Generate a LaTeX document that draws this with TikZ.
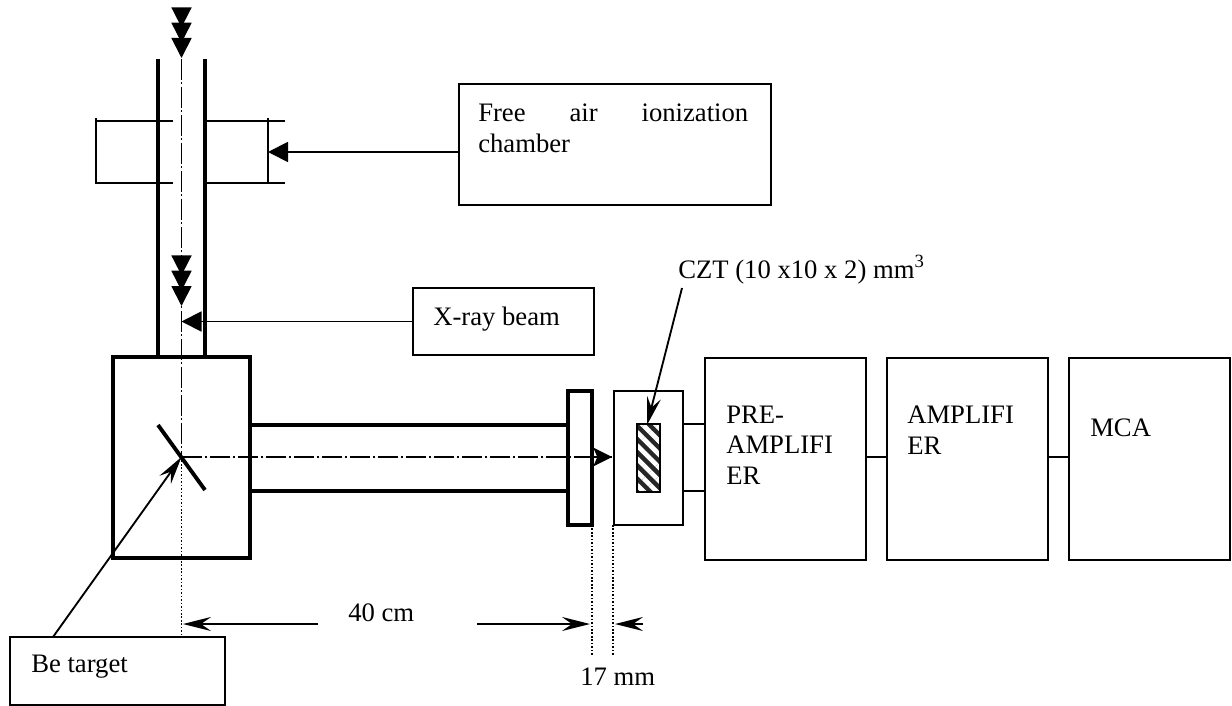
\documentclass[tikz,border=0pt]{standalone}
\usepackage{fontspec}
\setmainfont{Liberation Serif}
\usetikzlibrary{arrows.meta, patterns.meta}

\begin{document}
\begin{tikzpicture}[
    x=0.75pt, y=-0.75pt,
    labelbox/.style={rectangle, draw, line width=1.4pt, inner sep=0pt, outer sep=0pt},
    heavybox/.style={rectangle, draw, line width=2.9pt, inner sep=0pt, outer sep=0pt, fill=white},
    lbl/.style={font=\fontsize{20}{23}\selectfont, inner sep=0pt, align=left, anchor=base west},
    wall/.style={line width=2.9pt},
    thinline/.style={line width=1.4pt},
    beam/.style={line width=1.4pt, dash pattern=on 15.5pt off 2pt on 1.5pt off 2pt},
    dots/.style={line width=1.2pt, dash pattern=on 1.2pt off 1.4pt},
    solidarr/.style={line width=1.4pt, -{Triangle[length=15pt, width=15pt]}},
    kitearr/.style={line width=1.4pt, -{Stealth[length=21pt, width=10.5pt, inset=7.5pt]}},
    beamarr/.style={line width=1.4pt, -{Stealth[length=14pt, width=14pt, inset=3pt]}},
    triplearr/.style={line width=1.4pt, -{Triangle[length=15pt, width=15pt, sep=-3.5pt] Triangle[length=15pt, width=15pt, sep=-3.5pt] Triangle[length=15pt, width=15pt]}},
]
\useasboundingbox (0,0) rectangle (1232,706);

% source housing and pipe to the detector
\node[heavybox, minimum width=102.75pt, minimum height=150.75pt] (housing) at (181.5,457.5) {};
\node[heavybox, minimum width=18pt, minimum height=100.5pt] (collimator) at (580,458) {};

\coordinate (pipeNW) at (158,59);
\coordinate (pipeNE) at (205,59);
\coordinate (pipeSW) at (158,357);
\coordinate (pipeSE) at (205,357);
\draw[wall] (pipeNW) -- (pipeSW);
\draw[wall] (pipeNE) -- (pipeSE);

\coordinate (tubeTL) at (250,425);
\coordinate (tubeTR) at (568,425);
\coordinate (tubeBL) at (250,491);
\coordinate (tubeBR) at (568,491);
\draw[wall] (tubeTL) -- (tubeTR);
\draw[wall] (tubeBL) -- (tubeBR);

\coordinate (targetA) at (158,425);
\coordinate (targetB) at (205,490);
\draw[wall] (targetA) -- (targetB);

% ionization chamber
\coordinate (chamLT) at (96,121);
\coordinate (chamLM) at (173,121);
\coordinate (chamRM) at (207,121);
\coordinate (chamRT) at (285,121);
\coordinate (chamLB) at (96,183);
\coordinate (chamLN) at (173,183);
\coordinate (chamRN) at (207,183);
\coordinate (chamRB) at (285,183);
\draw[thinline] (chamLT) -- (chamLM);
\draw[thinline] (chamRM) -- (chamRT);
\draw[thinline] (chamLB) -- (chamLN);
\draw[thinline] (chamRN) -- (chamRB);
\coordinate (chamA) at (96,118);
\coordinate (chamB) at (96,184);
\coordinate (chamC) at (268,118);
\coordinate (chamD) at (268,184);
\draw[thinline] (chamA) -- (chamB);
\draw[thinline] (chamC) -- (chamD);

% beam axis
\coordinate (beamTop) at (181.5,59);
\coordinate (beamHit) at (181.5,457);
\coordinate (beamEnd) at (612,457);
\coordinate (dotEnd) at (181.5,637);
\draw[beam] (beamTop) -- (beamHit);
\draw[beam] (beamHit) -- (beamEnd);
\draw[dots] (beamHit) -- (dotEnd);

\coordinate (headTopA) at (181.5,8);
\coordinate (headTopB) at (181.5,58);
\coordinate (headMidA) at (181.5,257);
\coordinate (headMidB) at (181.5,306);
\draw[triplearr] (headTopA) -- (headTopB);
\draw[triplearr] (headMidA) -- (headMidB);

\coordinate (beamFrom) at (592,457);
\draw[beamarr] (beamFrom) -- (beamEnd);

% detector
\node[labelbox, minimum width=51.75pt, minimum height=100.5pt] (detbox) at (648.5,458) {};
\node[labelbox, minimum width=17.25pt, minimum height=51pt,
      preaction={fill=black!85}, pattern={Lines[angle=-45, distance=7pt, line width=3.5pt]}, pattern color=white] (czt) at (648.5,458) {};

% electronics
\node[labelbox, minimum width=120.75pt, minimum height=151.5pt] (preamp) at (785.5,459) {};
\node[labelbox, minimum width=120.75pt, minimum height=151.5pt] (amp) at (967.5,459) {};
\node[labelbox, minimum width=120.75pt, minimum height=151.5pt] (mca) at (1149.5,459) {};
\node[lbl, anchor=west] (preamptext) at (726,445) {PRE-\\AMPLIFI\\ER};
\node[lbl, anchor=west] (amptext) at (907,430) {AMPLIFI\\ER};
\node[lbl] (mcatext) at (1090,436) {MCA};

\coordinate (detU) at (683,424);
\coordinate (preU) at (705,424);
\coordinate (detL) at (683,491);
\coordinate (preL) at (705,491);
\draw[thinline] (detU) -- (preU);
\draw[thinline] (detL) -- (preL);
\draw[thinline] (preamp.east |- 0,457) -- (amp.west |- 0,457);
\draw[thinline] (amp.east |- 0,457) -- (mca.west |- 0,457);

% callouts
\node[labelbox, minimum width=234pt, minimum height=90.75pt] (airbox) at (615,144.5) {};
\node[lbl, anchor=west, text width=202.5pt, align=justify] (airtext) at (478,128) {Free air ionization \mbox{chamber}};
\draw[solidarr] (airbox.west |- 0,152) -- (chamC |- 0,152);

\node[labelbox, minimum width=135.75pt, minimum height=50.25pt] (xraybox) at (503.5,321.5) {};
\node[lbl] (xraytext) at (433,325) {X-ray beam};
\draw[solidarr] (xraybox.west) -- (beamHit |- xraybox.west);

\node[lbl] (czttext) at (678,278) {CZT (10 x10 x 2) mm\textsuperscript{3}};
\coordinate (cztFrom) at (682,288);
\coordinate (cztTip) at (647,425);
\draw[kitearr] (cztFrom) -- (cztTip);

\node[labelbox, minimum width=161.25pt, minimum height=51pt] (betarget) at (117.5,671) {};
\node[lbl] (betext) at (31,672) {Be target};
\coordinate (beFrom) at (53,637);
\draw[kitearr] (beFrom) -- (beamHit);

% dimensions
\coordinate (dimA) at (592,525);
\coordinate (dimB) at (592,655);
\coordinate (dimC) at (613,525);
\coordinate (dimD) at (613,655);
\draw[dots] (dimA) -- (dimB);
\draw[dots] (dimC) -- (dimD);

\node[lbl] (fortycm) at (348,621) {40 cm};
\node[lbl] (seventeen) at (580,685) {17 mm};
\coordinate (dimL) at (183,624);
\coordinate (dimLfrom) at (318,624);
\coordinate (dimR) at (590,624);
\coordinate (dimRfrom) at (477,624);
\coordinate (dimS) at (615,624);
\coordinate (dimSfrom) at (643,624);
\draw[kitearr] (dimLfrom) -- (dimL);
\draw[kitearr] (dimRfrom) -- (dimR);
\draw[kitearr] (dimSfrom) -- (dimS);
\end{tikzpicture}
\end{document}
